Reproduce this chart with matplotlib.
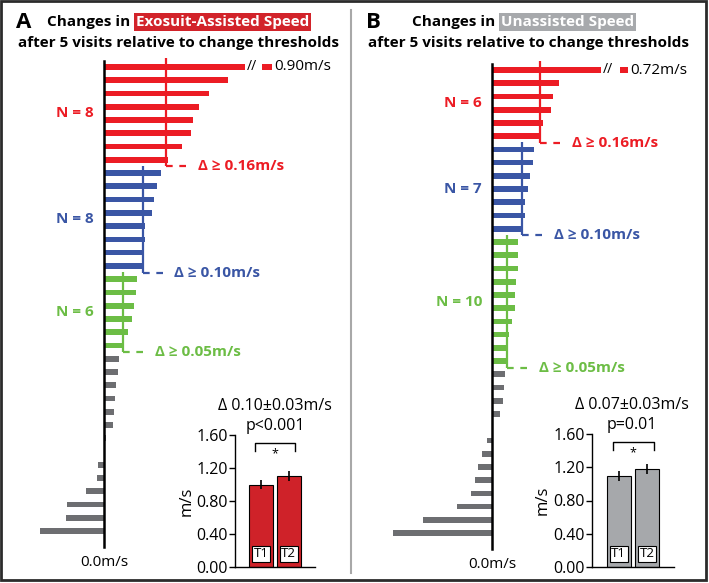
import matplotlib.pyplot as plt
from matplotlib.patches import Rectangle

plt.rcParams['font.family'] = ['Open Sans', 'DejaVu Sans']

W, H = 709, 583

# per-participant change after 5 visits (m/s), sorted high to low
a_red = [0.90, 0.322, 0.273, 0.247, 0.231, 0.226, 0.203, 0.166]
a_blue = [0.148, 0.138, 0.130, 0.124, 0.106, 0.106, 0.104, 0.100]
a_green = [0.085, 0.083, 0.078, 0.073, 0.062, 0.050]
a_gray = [0.039, 0.036, 0.031, 0.029, 0.026, 0.023, 0.005, 0.0,
          -0.016, -0.018, -0.047, -0.096, -0.100, -0.166]

b_red = [0.72, 0.221, 0.201, 0.195, 0.168, 0.160]
b_blue = [0.139, 0.135, 0.125, 0.119, 0.109, 0.108, 0.100]
b_green = [0.087, 0.087, 0.085, 0.078, 0.075, 0.075, 0.065, 0.056, 0.054, 0.050]
b_gray = [0.043, 0.040, 0.036, 0.026, 0.0, -0.017, -0.033, -0.046,
          -0.056, -0.069, -0.116, -0.228, -0.327]

thresholds = [0.16, 0.10, 0.05]
thr_labels = ['Δ ≥ 0.16m/s', 'Δ ≥ 0.10m/s', 'Δ ≥ 0.05m/s']

visits = ['T1', 'T2']
a_mean = [1.00, 1.10]
a_err = [0.06, 0.06]
b_mean = [1.10, 1.18]
b_err = [0.06, 0.06]
inset_ticks = [0.0, 0.4, 0.8, 1.2, 1.6]

RED = '#ec1c24'
BLUE = '#3a56a5'
GREEN = '#6cbd45'
GRAY = '#6d6e71'

fig = plt.figure(figsize=(W / 100, H / 100), dpi=100)


def px_axes(x0, y0, x1, y1):
    return fig.add_axes([x0 / W, 1 - y1 / H, (x1 - x0) / W, (y1 - y0) / H])


# overlay in pixel coords for titles / frame
ov = px_axes(0, 0, W, H)
ov.set_xlim(0, W)
ov.set_ylim(H, 0)
ov.axis('off')
ov.add_patch(Rectangle((1, 1), 705, 579, fill=False, ec='#2b2b2b', lw=2, clip_on=False))
ov.plot([351, 351], [10, 573], color='#a8a8a8', lw=1.5)


def title(letter, lx, cx, cx2, word, box_color):
    ov.text(lx, 22, letter, fontsize=16, weight='bold', va='center', ha='left')
    t = ov.text(cx, 22, 'Changes in', fontsize=11, weight='bold', va='center', ha='left')
    ov.annotate(word, xy=(1, 0.5), xycoords=t, xytext=(4, 0), textcoords='offset points',
                va='center', ha='left', fontsize=11, weight='bold', color='white',
                bbox=dict(boxstyle='square,pad=0.12', fc=box_color, ec='none'))
    ov.text(cx2, 43, 'after 5 visits relative to change thresholds', fontsize=11,
            weight='bold', va='center', ha='center')


title('A', 16, 47, 178, 'Exosuit-Assisted Speed', '#d2232a')
title('B', 366, 412, 529, 'Unassisted Speed', '#a7a9ac')


def panel(x0, x1, axis_px, scale, top_px, step, groups, brk, brk_gap):
    ax = px_axes(x0, 0, x1, H)
    ax.set_xlim((x0 - axis_px) / scale, (x1 - axis_px) / scale)
    ax.set_ylim((H - top_px) / step, -top_px / step)
    ax.axis('off')
    d = lambda px: px / scale

    colors = [RED, BLUE, GREEN, GRAY]
    row = 0
    for gi, vals in enumerate(groups):
        rows = list(range(row, row + len(vals)))
        shown = [min(v, brk) for v in vals]
        ax.barh(rows, shown, height=0.43, color=colors[gi], lw=0)
        if gi < 3:
            top = -0.7 if gi == 0 else row - 0.55
            bot = row + len(vals) - 0.5
            thr = thresholds[gi]
            ax.plot([thr, thr], [top, bot], color=colors[gi], lw=1.6, solid_capstyle='butt')
            ax.plot([thr, thr + d(26)], [bot, bot], color=colors[gi], lw=1.6, dashes=(3, 3))
            ax.text(thr + d(32), bot, thr_labels[gi], color=colors[gi], fontsize=11,
                    weight='bold', va='center', ha='left')
            ax.text(d(-10), (rows[0] + rows[-1]) / 2, f'N = {len(vals)}', color=colors[gi],
                    fontsize=11, weight='bold', va='center', ha='right')
        row += len(vals)

    # broken top bar
    top_val = groups[0][0]
    ax.text(brk + d(2), -0.05, '//', fontsize=10, va='center', ha='left')
    ax.barh([0], [d(10 - brk_gap)], left=brk + d(brk_gap + 17), height=0.43, color=RED, lw=0)
    ax.text(brk + d(29), 0, f'{top_val:.2f}m/s', fontsize=11, va='center', ha='left')

    ax.plot([0, 0], [-0.45, row + 0.2], color='black', lw=1.8)
    ax.text(0, row + 1.4, '0.0m/s', fontsize=11, va='center', ha='center')
    return ax


panel(0, 351, 104, 385, 67, 13.26, [a_red, a_blue, a_green, a_gray], 0.366, 0)
panel(351, W, 492, 303, 70, 13.23, [b_red, b_blue, b_green, b_gray], 0.36, 2)


def inset(box, mean, err, color, head, pval, hx):
    ax = px_axes(*box)
    x = list(range(len(visits)))
    ax.bar(x, mean, width=0.87, color=color, edgecolor='black', lw=0.8,
           yerr=err, error_kw=dict(ecolor='black', elinewidth=1.2, capsize=0))
    for i, lab in enumerate(visits):
        ax.text(i, 0.16, lab, fontsize=9.5, ha='center', va='center',
                bbox=dict(boxstyle='square,pad=0.12', fc='white', ec='black', lw=0.8))
    ax.plot([-0.22, -0.22, 1.24, 1.24], [1.41, 1.5, 1.5, 1.41], color='black', lw=1, clip_on=False)
    ax.text(0.5, 1.37, '*', fontsize=9, ha='center', va='center')
    ax.text(hx, 1.95, head, fontsize=11.5, ha='center', va='center', clip_on=False)
    ax.text(hx, 1.71, pval, fontsize=11.5, ha='center', va='center', clip_on=False)
    ax.set_xlim(-0.95, 1.96)
    ax.set_ylim(0, 1.6)
    ax.set_yticks(inset_ticks)
    ax.set_yticklabels([f'{t:.2f}' for t in inset_ticks])
    ax.set_xticks([])
    ax.tick_params(axis='y', length=4, width=1, labelsize=11.5, pad=1)
    for s in ['top', 'right']:
        ax.spines[s].set_visible(False)
    for s in ['left', 'bottom']:
        ax.spines[s].set_linewidth(1)
    ax.patch.set_alpha(0)
    ax.text(-0.6, 0.5, 'm/s', transform=ax.transAxes, rotation=90, fontsize=12,
            ha='center', va='center')


inset((235, 435, 315, 567), a_mean, a_err, '#cf2229', 'Δ 0.10±0.03m/s', 'p<0.001', 0.51)
inset((592, 434, 674, 567), b_mean, b_err, '#a6a8ab', 'Δ 0.07±0.03m/s', 'p=0.01', 0.46)

fig.savefig('out.png', dpi=100)
